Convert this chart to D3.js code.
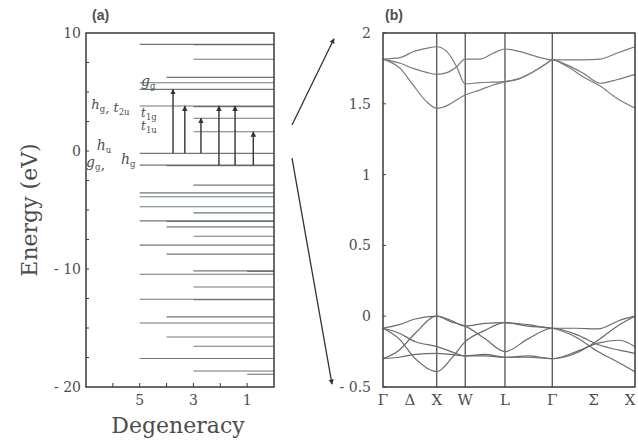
<!DOCTYPE html>
<html>
<head>
<meta charset="utf-8">
<script src="https://cdn.jsdelivr.net/npm/d3@7"></script>
<style>
  body { margin: 0; background: #fff; }
  svg text { font-family: "DejaVu Serif", "Liberation Serif", serif; fill: #4d4d4d; }
</style>
</head>
<body>
<svg id="chart" width="638" height="443"></svg>
<script>
// (a) C60 molecular levels: energy in eV, degeneracy
const levelEnergy = [9.04, 9.0, 7.77, 6.24, 5.78, 5.22, 3.81, 3.76, 2.77, 1.63, -0.2, -1.2, -1.24,
  -2.89, -3.55, -3.88, -4.73, -5.24, -5.92, -5.97, -6.43, -7.22, -7.98, -8.74,
  -10.16, -10.2, -10.44, -11.52, -12.56, -12.6, -14.06, -14.57, -15.76, -16.55, -17.59, -18.64, -18.92];
const levelDegen = [5, 3, 3, 4, 5, 5, 5, 3, 3, 3, 5, 5, 4,
  3, 5, 5, 5, 3, 5, 4, 4, 3, 5, 4,
  3, 1, 5, 3, 5, 3, 4, 5, 4, 3, 5, 3, 1];

// optical transitions: position on degeneracy axis, from / to energy
const arrowDegen = [3.76, 3.32, 2.72, 2.05, 1.45, 0.77];
const arrowFrom = [-0.2, -0.2, -0.2, -1.2, -1.2, -1.2];
const arrowTo = [5.22, 3.81, 2.77, 3.81, 3.81, 1.63];

const degenTicks = [6, 5, 4, 3, 2, 1];
const degenLabels = [5, 3, 1];
const energyLabels = [10, 0, -10, -20];

// (b) band structure along Γ-X-W-L-Γ-X
const kPoints = [0, 1, 1.53, 2.27, 3.15, 4.69];
const kNames = ["Γ", "X", "W", "L", "Γ", "X"];
const kMid = [0.5, 3.92];
const kMidNames = ["Δ", "Σ"];

const kUpper = [0, 0.32, 0.56, 0.81, 1, 1.19, 1.37, 1.53, 1.8, 2.05, 2.27, 2.55, 2.8, 3.05, 3.15, 3.42, 3.73, 4.04, 4.35, 4.69];
const bandA = [1.816, 1.826, 1.868, 1.892, 1.903, 1.868, 1.762, 1.64, 1.65, 1.653, 1.656, 1.68, 1.727, 1.786, 1.81, 1.775, 1.715, 1.645, 1.67, 1.708];
const bandB = [1.816, 1.786, 1.75, 1.722, 1.708, 1.72, 1.762, 1.816, 1.816, 1.857, 1.887, 1.868, 1.84, 1.816, 1.81, 1.81, 1.81, 1.815, 1.857, 1.903];
const bandC = [1.816, 1.75, 1.633, 1.515, 1.468, 1.487, 1.527, 1.562, 1.597, 1.633, 1.656, 1.68, 1.727, 1.786, 1.81, 1.765, 1.69, 1.625, 1.54, 1.47];

const kLower = [0, 0.3, 0.6, 1, 1.27, 1.53, 1.9, 2.27, 2.7, 3.15, 3.6, 4.0, 4.4, 4.69];
const band1 = [-0.085, -0.06, -0.02, 0.0, -0.03, -0.07, -0.05, -0.046, -0.06, -0.085, -0.085, -0.09, -0.03, 0.0];
const band2 = [-0.30, -0.24, -0.12, 0.0, -0.04, -0.07, -0.16, -0.25, -0.16, -0.085, -0.13, -0.2, -0.24, -0.262];
const band3 = [-0.085, -0.16, -0.30, -0.392, -0.3, -0.18, -0.1, -0.046, -0.07, -0.085, -0.15, -0.25, -0.33, -0.392];
const band4 = [-0.085, -0.12, -0.18, -0.215, -0.25, -0.28, -0.28, -0.29, -0.28, -0.30, -0.25, -0.19, -0.17, -0.215];
const band5 = [-0.30, -0.29, -0.27, -0.262, -0.27, -0.28, -0.27, -0.29, -0.29, -0.30, -0.26, -0.17, -0.06, 0.0];

const svg = d3.select("#chart");

svg.append("defs").append("marker")
  .attr("id", "head")
  .attr("viewBox", "0 0 10 10")
  .attr("refX", 9).attr("refY", 5)
  .attr("markerWidth", 4).attr("markerHeight", 5)
  .attr("orient", "auto-start-reverse")
  .append("path").attr("d", "M0,0 L10,5 L0,10 z").attr("fill", "#333");

// ---------- panel (a) ----------
const xA = d3.scaleLinear().domain([7, 0]).range([86, 274]);
const yA = d3.scaleLinear().domain([-20, 10]).range([387, 33]);

const gA = svg.append("g");

gA.selectAll("line.level")
  .data(levelEnergy.map((e, i) => ({ e, d: levelDegen[i] })))
  .join("line")
  .attr("class", "level")
  .attr("x1", d => xA(d.d)).attr("x2", xA(0))
  .attr("y1", d => yA(d.e)).attr("y2", d => yA(d.e))
  .attr("stroke", "#556360").attr("stroke-width", 1.1).attr("opacity", 0.85);

gA.selectAll("line.arrow")
  .data(arrowDegen.map((d, i) => ({ d, from: arrowFrom[i], to: arrowTo[i] })))
  .join("line")
  .attr("class", "arrow")
  .attr("x1", d => xA(d.d)).attr("x2", d => xA(d.d))
  .attr("y1", d => yA(d.from)).attr("y2", d => yA(d.to))
  .attr("stroke", "#333").attr("stroke-width", 1.4)
  .attr("marker-end", "url(#head)");

gA.append("rect")
  .attr("x", xA(7)).attr("y", yA(10))
  .attr("width", xA(0) - xA(7)).attr("height", yA(-20) - yA(10))
  .attr("fill", "none").attr("stroke", "#3a3a3a").attr("stroke-width", 1.5);

// inward ticks
gA.selectAll("line.ytick")
  .data(d3.range(-17.5, 10, 2.5))
  .join("line")
  .attr("x1", xA(7)).attr("x2", xA(7) + 3)
  .attr("y1", d => yA(d)).attr("y2", d => yA(d))
  .attr("stroke", "#3a3a3a");
gA.selectAll("line.xtick")
  .data(degenTicks)
  .join("line")
  .attr("x1", d => xA(d)).attr("x2", d => xA(d))
  .attr("y1", yA(-20)).attr("y2", yA(-20) - 4)
  .attr("stroke", "#3a3a3a");

gA.selectAll("text.ylab")
  .data(energyLabels)
  .join("text")
  .attr("x", 81).attr("y", d => yA(d) + 5)
  .attr("text-anchor", "end").attr("font-size", 14)
  .text(d => d < 0 ? "- " + (-d) : d);
gA.selectAll("text.xlab")
  .data(degenLabels)
  .join("text")
  .attr("x", d => xA(d)).attr("y", 405)
  .attr("text-anchor", "middle").attr("font-size", 14)
  .text(d => d);

gA.append("text")
  .attr("x", (xA(7) + xA(0)) / 2 - 2).attr("y", 433)
  .attr("text-anchor", "middle").attr("font-size", 22)
  .text("Degeneracy");
gA.append("text")
  .attr("transform", `translate(37, ${yA(-5)}) rotate(-90)`)
  .attr("text-anchor", "middle").attr("font-size", 22)
  .text("Energy (eV)");

// orbital labels: [symbol, subscript] parts, placed in data units
const orbLabels = [
  [["g", "g"]], [["h", "g"], [", t", "2u"]], [["t", "1g"]], [["t", "1u"]], [["h", "u"]], [["g", "g"], [",", ""]], [["h", "g"]]
];
const orbX = [4.95, 6.8, 4.95, 4.95, 6.6, 7.0, 5.7];
const orbE = [5.5, 3.6, 2.85, 1.75, 0.05, -1.35, -1.1];
const orbSize = [14, 13, 12, 12, 14, 14, 14];
orbLabels.forEach((parts, i) => {
  const t = gA.append("text")
    .attr("x", xA(orbX[i])).attr("y", yA(orbE[i]))
    .attr("font-size", orbSize[i]).attr("font-style", "italic");
  parts.forEach(([s, sub]) => {
    t.append("tspan").text(s);
    if (sub) {
      t.append("tspan").attr("font-size", 8.5).attr("dy", 3).attr("font-style", "normal").text(sub);
      t.append("tspan").attr("dy", -3).text("");
    }
  });
});

svg.append("text").attr("x", 92).attr("y", 20)
  .attr("font-weight", "bold").attr("font-size", 14)
  .style("font-family", "'Liberation Sans', sans-serif").text("(a)");

// ---------- panel (b) ----------
const xB = d3.scaleLinear().domain([0, 4.69]).range([383, 635]);
const yB = d3.scaleLinear().domain([-0.5, 2]).range([387, 33]);
const gB = svg.append("g");

gB.selectAll("line.kline")
  .data(kPoints.slice(1, -1))
  .join("line")
  .attr("x1", d => xB(d)).attr("x2", d => xB(d))
  .attr("y1", yB(2)).attr("y2", yB(-0.5))
  .attr("stroke", "#444").attr("stroke-width", 1.2);

const bandLine = (ks) => d3.line()
  .x((e, i) => xB(ks[i])).y(e => yB(e))
  .curve(d3.curveMonotoneX);

[bandA, bandB, bandC].forEach(b => {
  gB.append("path").attr("d", bandLine(kUpper)(b))
    .attr("fill", "none").attr("stroke", "#7a7a7a").attr("stroke-width", 1.2);
});
[band1, band2, band3, band4, band5].forEach(b => {
  gB.append("path").attr("d", bandLine(kLower)(b))
    .attr("fill", "none").attr("stroke", "#6a6a6a").attr("stroke-width", 1.2);
});

gB.append("rect")
  .attr("x", xB(0)).attr("y", yB(2))
  .attr("width", xB(4.69) - xB(0)).attr("height", yB(-0.5) - yB(2))
  .attr("fill", "none").attr("stroke", "#3a3a3a").attr("stroke-width", 1.5);

const yBTicks = [2, 1.5, 1, 0.5, 0, -0.5];
gB.selectAll("line.ytick")
  .data(yBTicks)
  .join("line")
  .attr("x1", xB(0)).attr("x2", xB(0) + 3)
  .attr("y1", d => yB(d)).attr("y2", d => yB(d))
  .attr("stroke", "#3a3a3a");
gB.selectAll("text.ylab")
  .data(yBTicks)
  .join("text")
  .attr("x", 371).attr("y", d => yB(d) + 5)
  .attr("text-anchor", "end").attr("font-size", 14)
  .text(d => d < 0 ? "- " + (-d) : d);

gB.selectAll("text.klab")
  .data(kPoints.map((k, i) => ({ k, n: kNames[i] })).concat(kMid.map((k, i) => ({ k, n: kMidNames[i] }))))
  .join("text")
  .attr("x", d => Math.min(xB(d.k), 630)).attr("y", 405)
  .attr("text-anchor", "middle").attr("font-size", 15)
  .text(d => d.n);

svg.append("text").attr("x", 385).attr("y", 20)
  .attr("font-weight", "bold").attr("font-size", 14)
  .style("font-family", "'Liberation Sans', sans-serif").text("(b)");

// arrows linking the panels
const links = [[2.2, 1.96], [-0.6, -0.48]];
svg.selectAll("line.link")
  .data(links)
  .join("line")
  .attr("x1", xA(0) + 18).attr("y1", d => yA(d[0]))
  .attr("x2", (d, i) => i === 0 ? xB(0) - 49 : xB(0) - 51).attr("y2", d => yB(d[1]))
  .attr("stroke", "#333").attr("stroke-width", 1.3)
  .attr("marker-end", "url(#head)");
</script>
</body>
</html>
